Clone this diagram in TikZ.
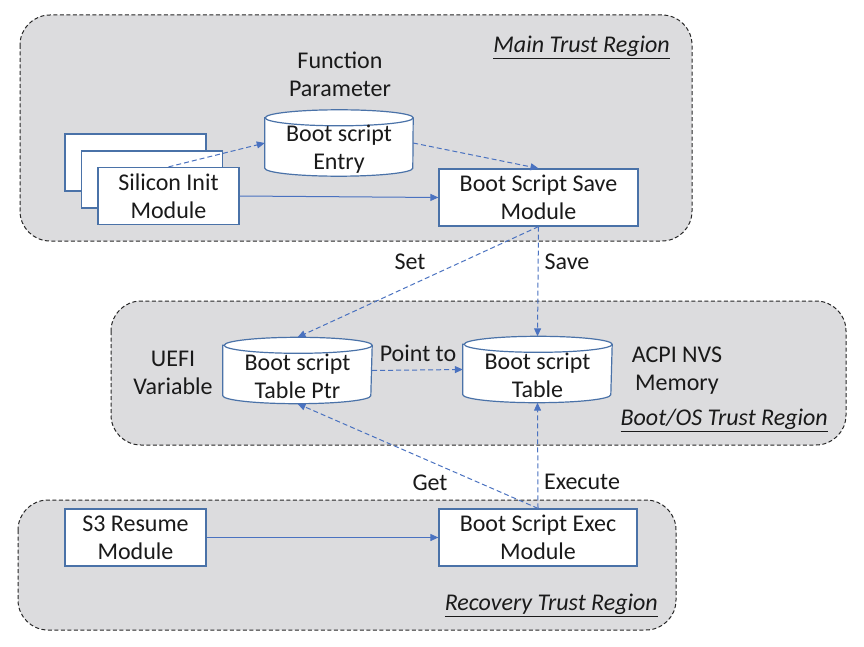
\documentclass[tikz,border=0pt]{standalone}
\usepackage{fontspec}
\setmainfont{Carlito}
\usetikzlibrary{arrows.meta}
\definecolor{regiongray}{HTML}{DCDCDE}
\definecolor{boxblue}{HTML}{4A72A8}
\definecolor{lineblue}{HTML}{4A72C0}
\definecolor{txt}{HTML}{1A1A1A}
\newcommand{\bigfont}{\fontsize{24}{28}\selectfont}
\tikzset{
  region/.style={draw=black!85, line width=1pt, dash pattern=on 4pt off 2.5pt, fill=regiongray, rounded corners=30pt},
  box/.style={draw=boxblue, fill=white, line width=1.2pt, align=center, inner sep=0pt, minimum height=57pt},
  cylnode/.style={inner sep=0pt, align=center, minimum width=148pt, minimum height=66pt},
  conn/.style={draw=lineblue, line width=1pt, -{Triangle[length=8pt,width=7pt]}},
  dconn/.style={conn, dash pattern=on 5pt off 3pt},
  lbl/.style={inner sep=0pt, align=center, text=txt},
  title/.style={inner sep=0pt, font={\bigfont\itshape}, text=txt},
}
\newcommand{\cyl}[1]{%
  \draw[draw=boxblue, fill=white, line width=1.2pt]
    ([yshift=-8pt]#1.north west) -- ([yshift=8pt]#1.south west)
    arc[start angle=180, end angle=360, x radius=74pt, y radius=8pt]
    -- ([yshift=-8pt]#1.north east)
    arc[start angle=0, end angle=180, x radius=74pt, y radius=8pt] -- cycle;
  \draw[draw=boxblue, line width=1.2pt]
    ([yshift=-8pt]#1.north east)
    arc[start angle=0, end angle=-180, x radius=74pt, y radius=8pt];
}
\begin{document}
\begin{tikzpicture}[x=1pt, y=-1pt, font=\bigfont, text=txt]
\useasboundingbox (0,0) rectangle (864,647);
% regions
\path[region] (20,15) rectangle (692,241);
\path[region] (111,301) rectangle (846,445);
\path[region] (18,500) rectangle (676,630);
\node[title, anchor=east] (mainlbl) at (670,47) {\underline{Main Trust Region}};
\node[title, anchor=east] (bootlbl) at (828,420) {\underline{Boot/OS Trust Region}};
\node[title, anchor=east] (reclbl) at (658,605) {\underline{Recovery Trust Region}};
% main region
\node[box, minimum width=141pt] (back) at (135.5,162.5) {};
\node[box, minimum width=141pt] (mid) at (152,179.5) {};
\node[box, minimum width=141pt] (front) at (168.5,196) {Silicon Init\\Module};
\node[lbl] (fparam) at (340,74) {Function\\Parameter};
\node[cylnode] (entry) at (339,143) {};
\cyl{entry}
\node[lbl] (entrytxt) at (339,149) {Boot script\\Entry};
\node[box, minimum width=199pt] (save) at (538.5,197.5) {Boot Script Save\\Module};
% boot/os region
\node[lbl] (uefi) at (173,373) {UEFI\\Variable};
\node[cylnode, minimum width=149pt] (ptr) at (297.5,370.5) {};
\cyl{ptr}
\node[lbl] (ptrtxt) at (297.5,376) {Boot script\\Table Ptr};
\node[cylnode, minimum width=149pt] (table) at (537.5,369.5) {};
\cyl{table}
\node[lbl] (tabletxt) at (537.5,375) {Boot script\\Table};
\node[lbl] (acpi) at (677,371) {ACPI NVS\\Memory};
% recovery region
\node[box, minimum width=141pt] (s3) at (135.5,537.5) {S3 Resume\\Module};
\node[box, minimum width=198pt] (exec) at (538,537.5) {Boot Script Exec\\Module};
% connectors
\draw[dconn] (front.north) -- (entry.west);
\draw[dconn] (entry.east) -- (save.north);
\draw[conn] (front.east) -- (save.west);
\draw[dconn] (save.south) -- (ptr.north);
\draw[dconn] (save.south) -- (table.north);
\draw[dconn] (ptr.east) -- (table.west);
\draw[dconn] (exec.north) -- (table.south);
\draw[dconn] (exec.north) -- (ptr.south);
\draw[conn] (s3.east) -- (exec.west);
% connector labels
\node[lbl] (setl) at (410,262) {Set};
\node[lbl] (savel) at (567,262) {Save};
\node[lbl] (pointl) at (418,353) {Point to};
\node[lbl] (getl) at (430,483) {Get};
\node[lbl] (execl) at (582,482) {Execute};
\end{tikzpicture}
\end{document}
